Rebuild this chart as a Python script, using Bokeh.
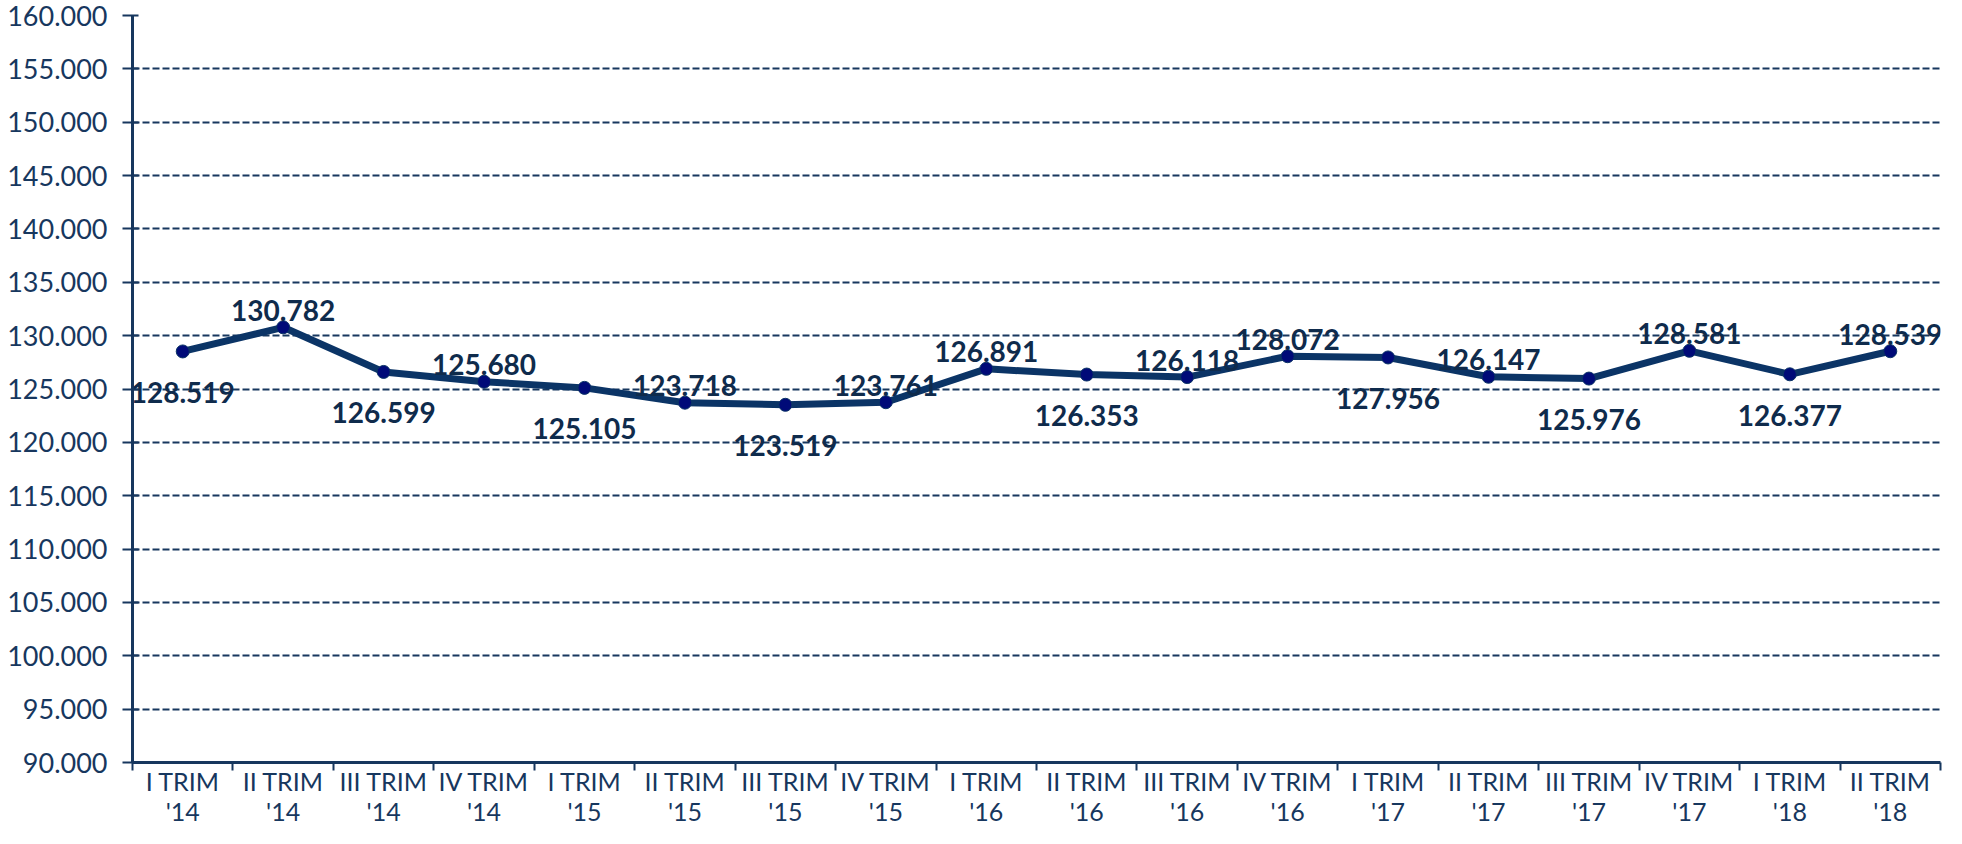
from bokeh.plotting import figure
from bokeh.models import (ColumnDataSource, FixedTicker, LinearAxis, Range1d)
from bokeh.core.properties import value
from bokeh.embed import file_html
from bokeh.resources import INLINE

# ---- data ----
categories = ["I TRIM\n'14", "II TRIM\n'14", "III TRIM\n'14", "IV TRIM\n'14",
              "I TRIM\n'15", "II TRIM\n'15", "III TRIM\n'15", "IV TRIM\n'15",
              "I TRIM\n'16", "II TRIM\n'16", "III TRIM\n'16", "IV TRIM\n'16",
              "I TRIM\n'17", "II TRIM\n'17", "III TRIM\n'17", "IV TRIM\n'17",
              "I TRIM\n'18", "II TRIM\n'18"]
values = [128519, 130782, 126599, 125680, 125105, 123718, 123519, 123761,
          126891, 126353, 126118, 128072, 127956, 126147, 125976, 128581,
          126377, 128539]
label_side = ["below", "above", "below", "above", "below", "above", "below", "above",
              "above", "below", "above", "above", "below", "above", "below", "above",
              "below", "above"]
y_ticks = list(range(90000, 160001, 5000))

# ---- styles ----
AXIS_COL = "#17375e"
LINE_COL = "#0b3466"
MARK_COL = "#000a78"
LABEL_COL = "#0f2b4c"

def fmt(v):
    return f"{v:,}".replace(",", ".")

xs = [i + 0.5 for i in range(len(values))]
offsets = [-17 if s == "above" else 41 for s in label_side]
src = ColumnDataSource(dict(x=xs, y=values, lab=[fmt(v) for v in values], yoff=offsets))

p = figure(width=1946, height=828, output_backend="svg", toolbar_location=None,
           x_range=Range1d(0, len(values)), y_range=Range1d(90000, 160000),
           min_border_left=132, min_border_right=6, min_border_top=15,
           min_border_bottom=0)
p.outline_line_color = None
p.background_fill_color = "white"
p.border_fill_color = "white"

# x tick-mark axis (boundaries)
xa = p.xaxis[0]
xa.ticker = FixedTicker(ticks=list(range(len(values) + 1)))
xa.major_label_text_font_size = "1px"
xa.major_label_text_color = None
xa.major_label_standoff = 0
xa.axis_label_standoff = 0
xa.major_tick_out = 8
xa.major_tick_in = 0
xa.minor_tick_line_color = None
xa.axis_line_color = AXIS_COL
xa.axis_line_width = 3
xa.major_tick_line_color = AXIS_COL
xa.major_tick_line_width = 2

# x label axis (category centers)
lab_axis = LinearAxis(ticker=FixedTicker(ticks=xs),
                      major_label_overrides={x: c for x, c in zip(xs, categories)})
lab_axis.axis_line_color = None
lab_axis.major_tick_line_color = None
lab_axis.minor_tick_line_color = None
lab_axis.major_tick_in = 0
lab_axis.major_tick_out = 0
lab_axis.axis_label_standoff = 0
lab_axis.major_label_standoff = -5
lab_axis.major_label_text_font = "Lato"
lab_axis.major_label_text_font_size = "25px"
lab_axis.major_label_text_color = AXIS_COL
lab_axis.major_label_text_line_height = 1.0
p.add_layout(lab_axis, "below")

# y axis
ya = p.yaxis[0]
ya.ticker = FixedTicker(ticks=y_ticks)
ya.major_label_overrides = {v: fmt(v) for v in y_ticks}
ya.major_label_text_font = "Lato"
ya.major_label_text_font_size = "27px"
ya.major_label_text_color = AXIS_COL
ya.major_label_standoff = 15
ya.axis_label_standoff = 0
ya.major_tick_out = 10
ya.major_tick_in = 6
ya.minor_tick_line_color = None
ya.axis_line_color = AXIS_COL
ya.axis_line_width = 3
ya.major_tick_line_color = AXIS_COL
ya.major_tick_line_width = 2

p.xgrid.grid_line_color = None
p.ygrid.ticker = FixedTicker(ticks=y_ticks[1:])
p.ygrid.grid_line_color = AXIS_COL
p.ygrid.grid_line_width = 2
p.ygrid.grid_line_dash = "7 3"

p.line("x", "y", source=src, line_color=LINE_COL, line_width=7, line_join="round")
p.scatter("x", "y", source=src, size=13, fill_color=MARK_COL, line_color=LINE_COL, line_width=1)
p.text("x", "y", text="lab", source=src, y_offset="yoff",
       text_align="center", text_baseline="alphabetic",
       text_font=value("Lato"), text_font_style="bold", text_font_size="28px",
       text_color=LABEL_COL)

open("out.html", "w").write(file_html(p, INLINE))
